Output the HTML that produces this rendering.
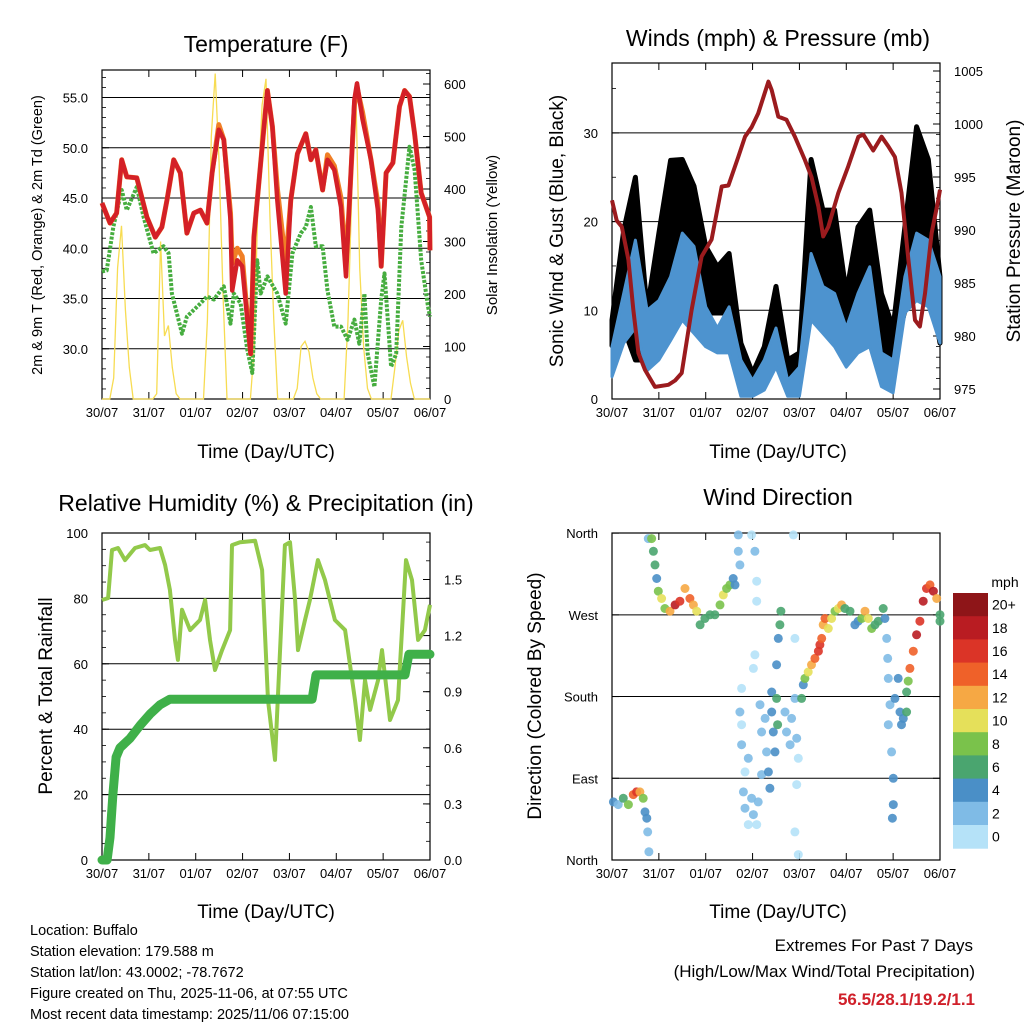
<!DOCTYPE html>
<html><head><meta charset="utf-8">
<style>
html,body{margin:0;padding:0;background:#fff;}
svg{display:block;font-family:"Liberation Sans",Arial,sans-serif;}
</style></head>
<body>
<svg id="chart" width="1024" height="1024" viewBox="0 0 1024 1024" xmlns="http://www.w3.org/2000/svg">
<rect width="1024" height="1024" fill="#fff"/>
<g id="layer"></g>
<text x="266" y="52" font-size="23" text-anchor="middle">Temperature (F)</text>
<text x="778" y="46" font-size="23" text-anchor="middle">Winds (mph) &amp; Pressure (mb)</text>
<text x="266" y="511" font-size="23" text-anchor="middle">Relative Humidity (%) &amp; Precipitation (in)</text>
<text x="778" y="505" font-size="23" text-anchor="middle">Wind Direction</text>
<text x="266" y="458" font-size="19" text-anchor="middle">Time (Day/UTC)</text>
<text x="778" y="458" font-size="19" text-anchor="middle">Time (Day/UTC)</text>
<text x="266" y="918" font-size="19" text-anchor="middle">Time (Day/UTC)</text>
<text x="778" y="918" font-size="19" text-anchor="middle">Time (Day/UTC)</text>
<text transform="translate(42,235) rotate(-90)" font-size="14.5" text-anchor="middle">2m &amp; 9m T (Red, Orange) &amp; 2m Td (Green)</text>
<text transform="translate(497,235) rotate(-90)" font-size="15" text-anchor="middle">Solar Insolation (Yellow)</text>
<text transform="translate(563,231) rotate(-90)" font-size="19" text-anchor="middle">Sonic Wind &amp; Gust (Blue, Black)</text>
<text transform="translate(1020,231) rotate(-90)" font-size="19" text-anchor="middle">Station Pressure (Maroon)</text>
<text transform="translate(52,696) rotate(-90)" font-size="19" text-anchor="middle">Percent &amp; Total Rainfall</text>
<text transform="translate(541,696) rotate(-90)" font-size="19" text-anchor="middle">Direction (Colored By Speed)</text>
<text x="1005" y="587" font-size="14" text-anchor="middle">mph</text>
<g font-size="14.5">
<text x="30" y="935">Location: Buffalo</text>
<text x="30" y="956">Station elevation: 179.588 m</text>
<text x="30" y="977">Station lat/lon: 43.0002; -78.7672</text>
<text x="30" y="998">Figure created on Thu, 2025-11-06, at 07:55 UTC</text>
<text x="30" y="1019">Most recent data timestamp: 2025/11/06 07:15:00</text>
</g>
<g text-anchor="end">
<text x="973" y="951" font-size="17">Extremes For Past 7 Days</text>
<text x="975" y="977" font-size="17">(High/Low/Max Wind/Total Precipitation)</text>
<text x="975" y="1005" font-size="17" font-weight="bold" fill="#d0202a">56.5/28.1/19.2/1.1</text>
</g>
</svg>
<script>
// ---------- data ----------
const dayLabels = ["30/07","31/07","01/07","02/07","03/07","04/07","05/07","06/07"];
const tempHours = [0,4.1,7.5,10.1,12.7,17.8,23,27.3,30.7,33.3,36.7,40.1,43.5,47,50.4,53.8,56.4,59.8,62.4,65.8,66.7,69.3,71.8,76.1,77.8,83,84.7,87.3,89.8,94.1,96.7,100.1,104.4,107,109.5,113,115.5,119,122.4,125,126.7,129.3,130.6,133.5,137.8,141.3,143,145.5,149,152.4,155,157.5,160.1,163.5,167.8,168];
const tempRed = [44.5,42.5,43.5,48.8,47.1,47.0,43.1,41.1,42.1,44.8,48.8,47.5,41.5,43.5,43.8,42.5,47.5,51.8,50.8,42.8,35.8,38.8,38.2,29.5,41.1,52.1,55.7,52.1,44.8,35.5,44.8,49.4,51.4,48.8,49.8,45.8,48.8,47.8,44.1,37.2,44.5,54.8,56.4,52.8,48.8,43.8,38.2,47.5,48.5,54.1,55.7,55.1,51.4,45.5,43.1,39.8];
const tempOrange = [44.5,42.5,43.5,48.8,47.1,47.0,43.1,41.1,42.1,44.8,48.8,47.5,41.5,43.5,43.8,42.5,47.5,52.3,50.8,43.5,38.5,40.0,39.2,29.5,41.1,52.1,55.7,52.1,46.0,38.5,44.8,49.4,51.4,48.8,49.8,45.8,49.3,48.2,45.0,38.5,44.5,54.2,56.0,53.5,48.8,44.5,38.2,47.5,48.5,54.1,55.7,55.1,51.4,45.5,43.1,39.8];
const dewHours = [0,2.4,5.8,10.1,12.7,17.8,21.3,26.4,31.5,34.1,35.8,41,43.5,50.4,53.8,57.3,62.4,65.8,67.5,71,74.4,77,79.5,81.3,84.7,89.8,94.1,97.5,101.8,104.4,107,109.5,113,115.5,119,122.4,125.8,129.3,131.8,134.4,136.1,139.5,143,144.7,148.1,150.7,153.3,157.5,160.1,163.5,167,168];
const dewGreen = [37.7,37.8,42.1,45.8,43.8,46.1,43.1,39.5,40.2,39.5,35.5,31.5,33.2,34.5,35.2,34.9,36.2,32.5,35.5,34.5,29.9,27.6,38.8,35.5,37.2,35.5,32.5,39.5,41.5,42.1,44.1,40.2,40.2,35.8,32.2,32.2,30.9,32.9,30.5,35.5,29.5,26.2,34.9,37.5,28.2,29.5,42.1,50.1,47.8,38.8,34.2,33.2];
const solarHours = [0,2,4,6,8,10,12,14,16,18,20,22,24,26,28,30,32,34,36,38,40,42,44,46,48,50,52,54,56,58,60,62,64,66,68,70,72,74,76,78,80,82,84,86,88,90,92,94,96,98,100,102,104,106,108,110,112,114,116,118,120,122,124,126,128,130,132,134,136,138,140,142,144,146,148,150,152,154,156,158,160,162,164,166,168];
const solarValues = [0,0,0,40,250,330,170,60,0,0,0,0, 0,0,10,300,120,140,60,10,0,0,0,0, 0,0,0,150,500,620,450,200,0,0,0,0, 0,0,0,100,400,560,610,350,150,0,0,0, 0,0,20,100,110,90,40,10,0,0,0,0, 0,0,0,150,400,590,250,100,20,0,0,0, 0,0,0,60,130,150,80,30,0,0,0,0,0];

const pressHours = [0,2.4,5,8.4,10.9,13.5,16.9,22,28.9,32.3,35.7,40.8,45.9,51,56.2,59.6,64.7,68.1,71.5,74.9,80.1,81.8,85.2,89.4,93.7,98.8,102.2,105.7,108.2,110.8,115.9,121,126.2,128.7,133.8,138.1,141.5,144.9,148.3,151.8,155.2,157.7,160.3,163.7,167.1,168];
const pressValues = [992.8,990.9,990.3,987.2,982.5,978.4,976.8,975.2,975.4,975.8,976.5,982.5,987.5,989.1,994.1,994.2,996.9,998.8,999.7,1001.0,1004.0,1003.2,1000.7,1000.4,998.8,996.6,995.0,992.2,989.4,990.3,993.5,996.0,998.8,999.0,997.5,998.8,997.9,996.9,993.5,987.2,981.5,980.9,984.0,989.7,992.8,993.8];
const windHours = [0,6,12,18,24,30,36,42,48,54,60,66,72,78,84,90,96,102,108,114,120,126,132,138,144,150,156,162,168];
const gustHigh = [8.9,19,25,10,18.7,26.9,27,24,17.2,14.9,16.4,6.3,2.9,5.9,12.7,4.4,5.2,27,21.3,21.3,11.9,19.4,21.3,11.9,8,19.4,30.7,27,13.8];
const gustLow = [6,8,4.4,4.4,8.9,14.9,13.8,11.9,9.7,9.7,9.7,3.2,1.7,2.1,5.9,1.4,2.1,14.9,12.7,11.9,6.3,8,10,5.2,4.4,10,19.4,13.8,6.3];
const windHigh = [5.9,11.9,17.9,10,11.1,13.8,18.7,17.2,10.4,8,10.4,4.4,2.1,4.4,8,2.1,3.6,16.4,12.7,11.9,8,11.9,14.9,5.2,4.4,13.8,18.7,17.9,13.8];
const windLow = [2.5,6.3,8,3.2,4.4,6.6,8.9,7.4,5.9,5.2,5.2,0.3,0.3,1,3.6,0.3,0.3,8.9,7.4,5.9,3.6,5.2,5.9,1.4,0.7,9.7,11.1,10.4,6.3];

const rhHours = [0,3.1,5.1,8.2,11.8,16.9,22,24.6,29.7,32.3,34.8,37.4,38.9,41,45.1,50.2,52.8,55.3,57.9,61.5,65.6,66.6,70.7,78.4,82,85,88.6,93.7,96.3,98.9,100.4,104,106.5,110.6,114.2,119.3,124.5,129.6,132.1,134.7,137.3,141.4,143.4,147.5,151.6,155.7,158.8,161.9,165.4,168];
const rhValues = [79.5,80.1,94.8,95.4,91.7,95.4,96.3,94.8,95.4,90.2,82.6,67.3,61.2,76.5,70.3,73.4,79.5,67.3,58.1,64.2,70.3,96.3,97.2,97.6,88.7,48.9,30.6,96.3,97.2,79.5,64.2,73.4,79.5,91.7,85.6,73.4,70.3,48.9,36.7,55,45.9,55,64.2,42.8,48.9,91.7,85.6,67.3,70.3,78];
const rainHours = [0,2.6,4.1,5.6,7.2,9.2,14.3,19.5,24.6,29.7,34.8,107.6,109.6,155.2,157.2,168];
const rainValues = [0,0,0.12,0.35,0.55,0.6,0.65,0.72,0.78,0.83,0.86,0.86,0.99,0.99,1.1,1.1];

const dirHours = [0.7,3.2,5.8,8.4,10.9,12.6,14.3,16,16.9,17.8,18.3,18.9,
 18.6,20.3,21.2,22,22.9,23.7,25.4,27.1,29.7,32.3,34.8,37.4,39.9,41.7,43.4,45.1,47.6,50.2,52.7,55.3,57,58.7,60.4,62.1,63,
 64.7,64.7,65.5,66.4,65.5,66.4,66.4,68.1,67.3,68.1,69.8,71.5,72.4,74.1,74.9,71.5,73.2,74.1,73.2,74.1,72.4,76.6,69.8,75.8,76.6,78.4,79.2,80.1,80.9,81.8,82.6,83.5,81.8,84.3,85.2,86,86.5,84.3,84.8,
 88.6,89.4,91.2,92,93.7,94.6,95.4,92.9,93.7,94.6,93.7,95.4,97.1,98,98.8,100.5,102.2,103.9,105.7,106.5,107.4,108.2,109.1,110.8,112.5,114.2,115.9,117.6,119.3,121.9,124.4,126.1,127.9,129.6,131.3,133,134.7,136.4,138.9,139.8,140.7,141.2,
 141.5,142.4,141.5,143.2,144.1,144.1,143.6,144.9,146.6,147.5,148.3,149.2,150.9,150.9,151.7,152.6,154.3,156,157.7,159.4,161.1,162.9,164.6,166.3,168,168];
const dirValues = [64,61,68,61,72,75,75,68,53,46,31,9,
 354,354,340,325,310,296,288,277,274,281,285,299,288,281,274,259,266,270,270,281,292,299,303,310,303,
 358,340,325,189,163,149,127,97,75,57,39,68,50,39,64,358,340,307,226,285,211,94,112,171,141,156,119,97,79,163,141,119,185,215,244,259,274,178,149,
 163,141,127,156,178,134,112,358,244,83,31,6,178,193,200,207,215,222,230,237,244,259,266,255,266,274,277,281,277,274,259,263,266,274,266,255,259,263,277,266,244,222,
 200,171,149,119,90,61,46,178,200,163,149,156,163,185,197,211,230,248,263,285,299,303,296,288,270,263];
const dirSpeeds = [4,3,6,8,14,16,12,8,5,4,3,2,
 3,8,7,6,5,9,11,8,12,18,16,13,14,12,10,7,7,6,6,8,10,8,8,5,4,
 2,2,3,1,3,1,2,1,2,3,1,2,2,1,2,1,3,1,1,1,1,2,2,2,2,3,3,4,4,4,4,4,4,4,4,6,6,6,6,
 2,2,2,2,2,2,1,1,1,1,1,1,6,5,8,10,12,14,16,16,14,13,14,10,10,9,10,12,7,6,4,4,9,12,10,9,7,7,6,4,3,2,
 2,3,2,2,4,4,4,5,4,5,4,5,7,7,9,14,15,18,16,18,16,14,18,12,7,6];

const speedColors = ["#b5e2f8","#7fbbe6","#4a8fc7","#4aa56f","#7ac24b","#e5e05a","#f6a844","#ef6129","#db3427","#b91c22","#8e1518"];
const speedLabels = ["0","2","4","6","8","10","12","14","16","18","20+"];

// ---------- helpers ----------
const NS = "http://www.w3.org/2000/svg";
const layer = document.getElementById("layer");
function mk(tag, attrs, parent){
  const e = document.createElementNS(NS, tag);
  for (const k in attrs) e.setAttribute(k, attrs[k]);
  (parent||layer).appendChild(e);
  return e;
}
function xScale(p){ return h => p.x0 + h/168*(p.x1-p.x0); }
function pathFrom(xs, ys, fx, fy){
  return xs.map((h,i)=>(i?"L":"M")+fx(h).toFixed(1)+","+fy(ys[i]).toFixed(1)).join("");
}
function bandFrom(xs, hi, lo, fx, fy){
  let d = xs.map((h,i)=>(i?"L":"M")+fx(h).toFixed(1)+","+fy(hi[i]).toFixed(1)).join("");
  for (let i=xs.length-1;i>=0;i--) d += "L"+fx(xs[i]).toFixed(1)+","+fy(lo[i]).toFixed(1);
  return d+"Z";
}
function frame(p, name){
  const g = mk("g", {});
  
  
  const fx = xScale(p);
  for (let d=0; d<=7; d++){
    const x = fx(d*24);
    mk("line",{x1:x,x2:x,y1:p.y1,y2:p.y1-7,stroke:"#000","stroke-width":1},g);
    mk("line",{x1:x,x2:x,y1:p.y0,y2:p.y0+7,stroke:"#000","stroke-width":1},g);
    const lb = mk("text",{x:x,y:p.y1+18,"font-size":13,"text-anchor":"middle"},g);
    lb.textContent = dayLabels[d];
    
    
  }
  return g;
}
function yAxis(g, p, side, majors, labels, fy, minors, grid){
  const x = side==="l"?p.x0:p.x1, dir = side==="l"?1:-1;
  majors.forEach((v,i)=>{
    const y = fy(v);
    if (grid && y>p.y0+1 && y<p.y1-1) mk("line",{x1:p.x0,x2:p.x1,y1:y,y2:y,stroke:"#000","stroke-width":1},g);
    mk("line",{x1:x,x2:x+dir*7,y1:y,y2:y,stroke:"#000","stroke-width":1},g);
    const lb = mk("text",{x:side==="l"?x-14:x+14,y:y+5,"font-size":13,"text-anchor":side==="l"?"end":"start"},g);
    lb.textContent = labels[i];
    
    
  });
  (minors||[]).forEach(v=>{
    const y = fy(v);
    if (y>=p.y0 && y<=p.y1) mk("line",{x1:x,x2:x+dir*4,y1:y,y2:y,stroke:"#000","stroke-width":0.8},g);
  });
}
function box(g,p){ mk("rect",{x:p.x0,y:p.y0,width:p.x1-p.x0,height:p.y1-p.y0,fill:"none",stroke:"#000","stroke-width":1.2},g); }
function range(a,b,s){ const r=[]; for(let v=a; v<=b+1e-9; v+=s) r.push(+v.toFixed(3)); return r; }

// ---------- Panel 1: temperature ----------
{
  const p = {x0:102,x1:430,y0:70,y1:399};
  const fx = xScale(p);
  const fT = v => 399 - (v-25)*10.05;
  const fS = v => 399 - v*0.525;
  const g = frame(p,"temperature-panel");
  const tMaj=[30,35,40,45,50,55];
  yAxis(g,p,"l",tMaj,tMaj.map(v=>v.toFixed(1)),fT,range(25,57,1),true);
  const sMaj=[0,100,200,300,400,500,600];
  yAxis(g,p,"r",sMaj,sMaj.map(String),fS,range(0,620,20),false);
  const sol = mk("path",{d:pathFrom(solarHours,solarValues,fx,fS),fill:"none",stroke:"#f7dc52","stroke-width":1.3});
  
  
  const dew = mk("path",{d:pathFrom(dewHours,dewGreen,fx,fT),fill:"none",stroke:"#46ad3f","stroke-width":4,"stroke-dasharray":"3 1.5","stroke-linejoin":"round"});
  
  
  const org = mk("path",{d:pathFrom(tempHours,tempOrange,fx,fT),fill:"none",stroke:"#f07f26","stroke-width":5,"stroke-linejoin":"round"});
  
  
  const red = mk("path",{d:pathFrom(tempHours,tempRed,fx,fT),fill:"none",stroke:"#d42027","stroke-width":4.5,"stroke-linejoin":"round"});
  
  
  box(g,p);
}
// ---------- Panel 2: winds ----------
{
  const p = {x0:612,x1:940,y0:63,y1:399};
  const fx = xScale(p);
  const fW = v => 399 - v*8.87;
  const fP = v => 389 - (v-975)*10.6;
  const g = frame(p,"winds-panel");
  yAxis(g,p,"l",[0,10,20,30],["0","10","20","30"],fW,range(0,37,5),true);
  const pMaj=[975,980,985,990,995,1000,1005];
  yAxis(g,p,"r",pMaj,pMaj.map(String),fP,range(974,1006,1),false);
  const gb = mk("path",{d:bandFrom(windHours,gustHigh,gustLow,fx,fW),fill:"#000",stroke:"#000","stroke-width":5,"stroke-linejoin":"round"});
  
  
  const wb = mk("path",{d:bandFrom(windHours,windHigh,windLow,fx,fW),fill:"#4d93cf",stroke:"#4d93cf","stroke-width":3,"stroke-linejoin":"round"});
  
  
  const pr = mk("path",{d:pathFrom(pressHours,pressValues,fx,fP),fill:"none",stroke:"#9b1b1e","stroke-width":4,"stroke-linejoin":"round"});
  
  
  box(g,p);
}
// ---------- Panel 3: humidity ----------
{
  const p = {x0:102,x1:430,y0:533,y1:860};
  const fx = xScale(p);
  const fR = v => 860 - v*3.27;
  const fQ = v => 860 - v*187;
  const g = frame(p,"humidity-panel");
  const rMaj=[0,20,40,60,80,100];
  yAxis(g,p,"l",rMaj,rMaj.map(String),fR,range(0,100,5),true);
  const qMaj=[0,0.3,0.6,0.9,1.2,1.5];
  yAxis(g,p,"r",qMaj,qMaj.map(v=>v.toFixed(1)),fQ,range(0,1.7,0.1),false);
  const rh = mk("path",{d:pathFrom(rhHours,rhValues,fx,fR),fill:"none",stroke:"#92c94a","stroke-width":4,"stroke-linejoin":"round"});
  
  
  const rn = mk("path",{d:pathFrom(rainHours,rainValues,fx,fQ),fill:"none",stroke:"#3fb049","stroke-width":9,"stroke-linejoin":"round","stroke-linecap":"round"});
  
  
  box(g,p);
}
// ---------- Panel 4: wind direction ----------
{
  const p = {x0:612,x1:940,y0:533,y1:860};
  const fx = xScale(p);
  const fD = v => 860 - Math.min(v,360)*0.908;
  const g = frame(p,"wind-direction-panel");
  yAxis(g,p,"l",[0,90,180,270,360],["North","East","South","West","North"],fD,[],true);
  [90,180,270].forEach(v=>mk("line",{x1:p.x1,x2:p.x1-7,y1:fD(v),y2:fD(v),stroke:"#000"},g));
  const n = Math.min(dirHours.length, dirValues.length, dirSpeeds.length);
  for (let i=0;i<n;i++){
    const bin = Math.min(10, Math.floor(dirSpeeds[i]/2));
    const c = mk("circle",{cx:fx(dirHours[i]).toFixed(1),cy:fD(dirValues[i]).toFixed(1),r:4.5,fill:speedColors[bin],"fill-opacity":0.9});
    
    
  }
  box(g,p);
  const cb = mk("g",{});
  
  
  const top=593, h=23.2;
  for (let i=0;i<11;i++){
    const idx = 10-i;
    const r = mk("rect",{x:953,y:top+i*h,width:35,height:h+0.5,fill:speedColors[idx]},cb);
    
    
    const t = mk("text",{x:992,y:top+i*h+h/2+5,"font-size":14},cb);
    t.textContent = speedLabels[idx];
    
    
  }
}
</script>
</body></html>
